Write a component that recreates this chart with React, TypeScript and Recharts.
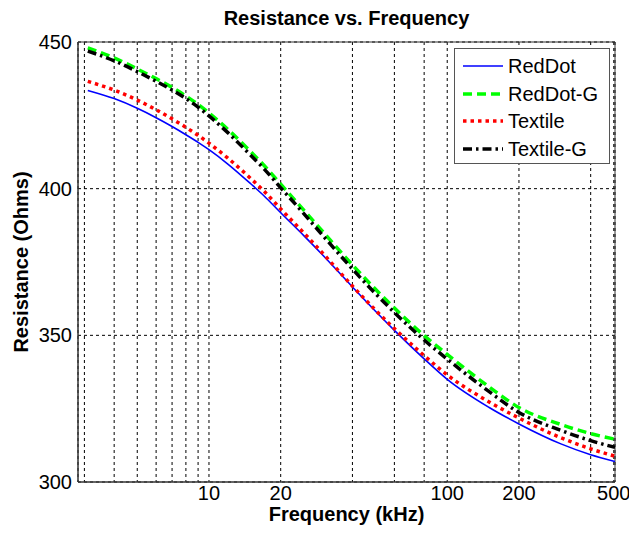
import { LineChart, Line, XAxis, YAxis, CartesianGrid, ReferenceArea, Label } from 'recharts';

// frequency samples (kHz) and resistance readings (Ohms)
const freqs = [3.1, 4, 5, 6, 7, 8, 9, 10, 12, 15, 17, 20, 25, 30, 40, 50, 60, 80, 100, 150, 200, 300, 400, 506];
const redDot = [433.5, 430.7, 427.4, 424.2, 421.2, 418.4, 415.8, 413.3, 408.4, 401.6, 397.6, 391.8, 384.0, 377.4, 366.5, 358.2, 351.7, 342.0, 335.0, 325.4, 319.8, 313.0, 309.3, 307.0];
const redDotG = [448.0, 444.6, 440.8, 437.5, 434.5, 431.6, 428.7, 425.8, 420.2, 412.5, 408.0, 401.5, 392.7, 385.4, 374.0, 365.7, 359.3, 349.9, 343.5, 332.4, 325.4, 319.6, 316.5, 314.6];
const textile = [436.6, 433.6, 430.2, 426.9, 423.8, 420.9, 418.2, 415.5, 410.4, 403.4, 399.2, 393.1, 384.9, 378.0, 366.8, 358.6, 352.3, 343.1, 336.5, 327.3, 321.8, 315.1, 311.3, 308.8];
const textileG = [446.9, 443.6, 439.9, 436.6, 433.6, 430.7, 427.8, 424.8, 419.1, 411.3, 406.8, 400.3, 391.5, 384.1, 372.6, 364.2, 357.8, 348.4, 341.9, 330.8, 323.7, 317.6, 314.1, 311.8];

const xTicks = [3, 4, 5, 6, 7, 8, 9, 10, 20, 40, 60, 80, 100, 200, 400, 500];
const xLabeled = [10, 20, 100, 200, 500];
const yTicks = [300, 350, 400, 450];

const X_DOMAIN: [number, number] = [2.82, 506];
const Y_DOMAIN: [number, number] = [300, 450];

const series = [
  { key: 'redDot', name: 'RedDot', color: '#0000ff', width: 1.6, dash: undefined },
  { key: 'redDotG', name: 'RedDot-G', color: '#00ff00', width: 3.5, dash: '9 5' },
  { key: 'textile', name: 'Textile', color: '#ff0000', width: 3.5, dash: '3.5 4' },
  { key: 'textileG', name: 'Textile-G', color: '#000000', width: 3.5, dash: '9 4 2.5 4' }
];

const data = freqs.map((f, i) => ({
  f,
  redDot: redDot[i],
  redDotG: redDotG[i],
  textile: textile[i],
  textileG: textileG[i]
}));

const FONT = '"Liberation Sans", Arial, sans-serif';

function YTitle({ viewBox }: any) {
  const cx = 21;
  const cy = viewBox.y + viewBox.height / 2;
  return (
    <text
      x={cx}
      y={cy}
      transform={`rotate(-90 ${cx} ${cy})`}
      textAnchor="middle"
      dominantBaseline="central"
      fontFamily={FONT}
      fontWeight="bold"
      fontSize={20}
      fill="#000"
    >
      Resistance (Ohms)
    </text>
  );
}

export default function App() {
  return (
    <div
      style={{
        position: 'absolute',
        left: 0,
        top: 0,
        width: 629,
        height: 533,
        background: '#fff',
        fontFamily: FONT
      }}
    >
      <div
        style={{
          position: 'absolute',
          top: 6,
          left: 78,
          width: 537,
          textAlign: 'center',
          fontSize: 20,
          fontWeight: 'bold',
          lineHeight: '24px',
          color: '#000'
        }}
      >
        Resistance vs. Frequency
      </div>
      <LineChart width={629} height={533} data={data} margin={{ top: 42, right: 14, bottom: 0, left: 0 }}>
        <CartesianGrid stroke="#000" strokeDasharray="3 3" strokeWidth={1} />
        <XAxis
          dataKey="f"
          type="number"
          scale="log"
          domain={X_DOMAIN}
          allowDataOverflow
          ticks={xTicks}
          interval={0}
          height={51}
          tickSize={0}
          tickMargin={4}
          tickLine={false}
          stroke="#333"
          tick={{ fill: '#000', fontSize: 20, fontFamily: FONT }}
          tickFormatter={(v: number) => (xLabeled.includes(v) ? String(v) : '')}
        >
          <Label
            value="Frequency (kHz)"
            position="insideBottom"
            offset={12}
            style={{ fontFamily: FONT, fontWeight: 'bold', fontSize: 20, fill: '#000' }}
          />
        </XAxis>
        <YAxis
          type="number"
          domain={Y_DOMAIN}
          allowDataOverflow
          ticks={yTicks}
          interval={0}
          width={78}
          tickSize={0}
          tickMargin={6}
          tickLine={false}
          stroke="#333"
          tick={{ fill: '#000', fontSize: 20, fontFamily: FONT }}
        >
          <Label content={<YTitle />} />
        </YAxis>
        <ReferenceArea
          x1={X_DOMAIN[0]}
          x2={X_DOMAIN[1]}
          y1={Y_DOMAIN[0]}
          y2={Y_DOMAIN[1]}
          stroke="#333"
          strokeWidth={1}
          fill="none"
          fillOpacity={0}
        />
        {series.map((s) => (
          <Line
            key={s.key}
            dataKey={s.key}
            name={s.name}
            type="monotone"
            stroke={s.color}
            strokeWidth={s.width}
            strokeDasharray={s.dash}
            dot={false}
            activeDot={false}
            isAnimationActive={false}
          />
        ))}
      </LineChart>
      <div
        style={{
          position: 'absolute',
          left: 454,
          top: 48,
          width: 154,
          height: 114,
          border: '1px solid #555',
          background: '#fff'
        }}
      >
        {series.map((s, i) => (
          <div
            key={s.key}
            style={{
              position: 'absolute',
              left: 0,
              top: 5 + i * 27.6,
              height: 24,
              display: 'flex',
              alignItems: 'center'
            }}
          >
            <svg width={50} height={24} style={{ display: 'block' }}>
              <line
                x1={8}
                x2={48}
                y1={12}
                y2={12}
                stroke={s.color}
                strokeWidth={s.width}
                strokeDasharray={s.dash}
              />
            </svg>
            <span style={{ marginLeft: 3, fontSize: 20, lineHeight: '24px', color: '#000' }}>{s.name}</span>
          </div>
        ))}
      </div>
    </div>
  );
}
